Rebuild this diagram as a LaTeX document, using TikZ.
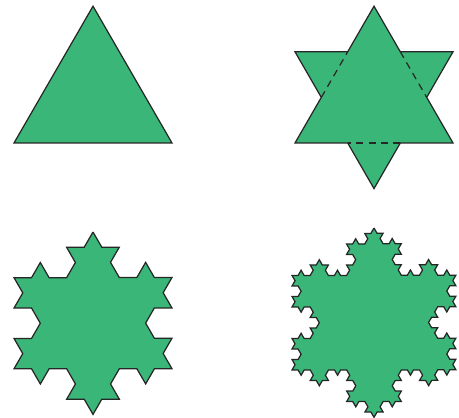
\documentclass[tikz,border=0pt]{standalone}
\usetikzlibrary{decorations.fractals}

\definecolor{kochGreen}{HTML}{3AB778}
\definecolor{kochEdge}{HTML}{262626}

\begin{document}
\begin{tikzpicture}[x=0.02cm,y=0.02cm,line join=miter,
  flake/.style={draw=kochEdge,fill=kochGreen,line width=0.7pt},
  hidden/.style={draw=kochEdge,line width=0.7pt,dash pattern=on 4pt off 3pt}]
  \useasboundingbox (0,0) rectangle (459,418);

  % step 0: triangle
  \path[flake] (93,411.8) -- (172,275) -- (14,275) -- cycle;

  % step 1: star, with removed middle thirds dashed
  \path[flake] (374,411.8) -- (400.3,366.2) -- (453,366.2) -- (426.7,320.6)
    -- (453,275) -- (400.3,275) -- (374,229.4) -- (347.7,275) -- (295,275)
    -- (321.3,320.6) -- (295,366.2) -- (347.7,366.2) -- cycle;
  \draw[hidden] (400.3,366.2) -- (426.7,320.6);
  \draw[hidden] (400.3,275) -- (347.7,275);
  \draw[hidden] (321.3,320.6) -- (347.7,366.2);

  % step 2
  \path[flake,decoration=Koch snowflake]
    decorate{decorate{(93,186) -- (172,49.2) -- (14,49.2) -- cycle}};

  % step 3
  \path[flake,decoration=Koch snowflake]
    decorate{decorate{decorate{(374,190) -- (456,48) -- (292,48) -- cycle}}};
\end{tikzpicture}
\end{document}
